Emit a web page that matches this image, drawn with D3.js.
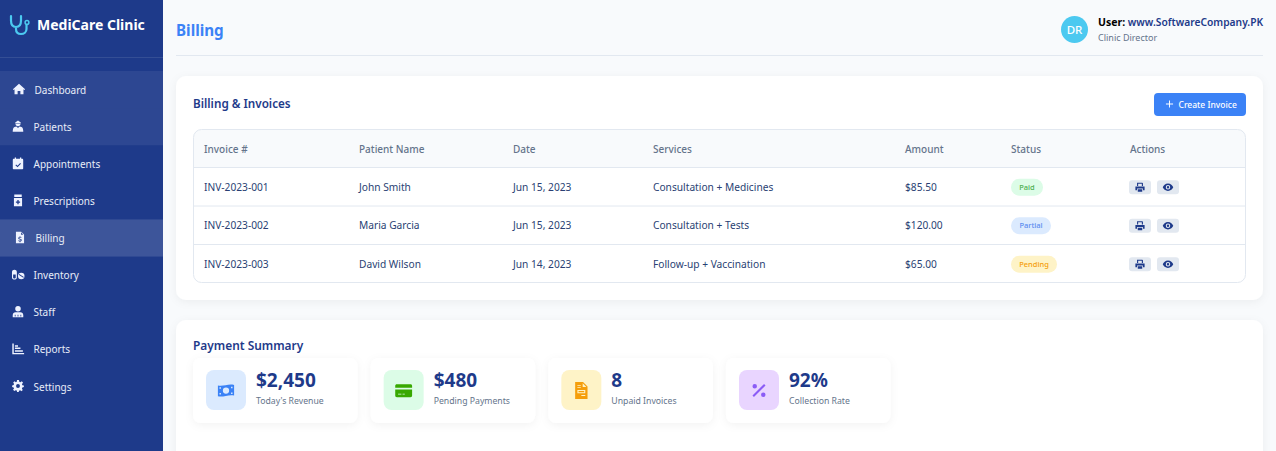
<!DOCTYPE html>
<html>
<head>
<meta charset="utf-8">
<script src="https://cdn.jsdelivr.net/npm/d3@7"></script>
<style>
  html, body { margin: 0; padding: 0; background: #f8fafc; overflow: hidden; }
  svg { display: block; font-family: "Noto Sans", sans-serif; }
</style>
</head>
<body>
<svg id="page" width="1276" height="451"></svg>
<script>
// values
const navLabels = ['Dashboard', 'Patients', 'Appointments', 'Prescriptions', 'Billing', 'Inventory', 'Staff', 'Reports', 'Settings'];
const navIcons = ['home', 'patient', 'calendar', 'bottle', 'file', 'pills', 'staff', 'chart', 'gear'];
const tableHeaders = ['Invoice #', 'Patient Name', 'Date', 'Services', 'Amount', 'Status', 'Actions'];
const invoiceNumbers = ['INV-2023-001', 'INV-2023-002', 'INV-2023-003'];
const patientNames = ['John Smith', 'Maria Garcia', 'David Wilson'];
const invoiceDates = ['Jun 15, 2023', 'Jun 15, 2023', 'Jun 14, 2023'];
const services = ['Consultation + Medicines', 'Consultation + Tests', 'Follow-up + Vaccination'];
const amounts = ['$85.50', '$120.00', '$65.00'];
const statuses = ['Paid', 'Partial', 'Pending'];
const statValues = ['$2,450', '$480', '8', '92%'];
const statLabels = ["Today's Revenue", 'Pending Payments', 'Unpaid Invoices', 'Collection Rate'];
const statIcons = ['money', 'card', 'doc', 'percent'];

const NAVY = '#1e3a8a', BLUE = '#3b82f6', LINE = '#e2e8f0', GREY = '#64748b', CELL = '#2a3f73';

// icon outlines on a 16x16 grid
const icons = {
  home: 'M8 1.5 15.5 8.2 14.6 9.2 13.5 8.3V14.5H9.7V10.4H6.3V14.5H2.5V8.3L1.4 9.2.5 8.2Z',
  patient: 'M4.6 3.4 8 1 11.4 3.4V4.6H4.6ZM5 5.4H11C11 7 9.8 8 8 8S5 7 5 5.4ZM3.8 9 6 8.4 8 10.2 10 8.4 12.3 9C13.8 9.6 14.5 11.2 14.5 15H1.5C1.5 11.2 2.3 9.6 3.8 9Z',
  calendar: 'M4 .8H5.6V2.4H10.4V.8H12V2.4H13C13.9 2.4 14.4 2.9 14.4 3.8V14C14.4 14.9 13.9 15.4 13 15.4H3C2.1 15.4 1.6 14.9 1.6 14V3.8C1.6 2.9 2.1 2.4 3 2.4H4ZM3 6.2V14H13V6.2ZM3 6.2H13V14H3ZM10.7 7.8 11.6 8.7 7.4 12.8 4.8 10.3 5.7 9.4 7.4 11Z',
  bottle: 'M3.4 .8H12.6V3.8H3.4ZM3 5H13V15.2H3ZM7.2 7.6V9.4H5.4V10.8H7.2V12.6H8.8V10.8H10.6V9.4H8.8V7.6Z',
  file: 'M3 .8H9.4L13 4.4V15.2H3ZM9.2 1.6V4.6H12.2ZM7.4 6.4V7.3C6.1 7.5 5.7 8.3 5.7 9 5.7 10.8 8.9 10.5 8.9 11.4 8.9 12 7.3 11.9 6.1 11.4L5.8 12.4C6.3 12.6 6.9 12.8 7.4 12.8V13.7H8.6V12.8C9.8 12.6 10.3 11.9 10.3 11.1 10.3 9.3 7.1 9.6 7.1 8.8 7.1 8.2 8.5 8.3 9.6 8.7L9.9 7.7C9.5 7.5 9 7.4 8.6 7.3V6.4Z',
  pills: 'M.6 5C.6 1 6.6 1 6.6 5V11.5C6.6 15 .6 15 .6 11.5ZM2 8V11.5C2 13.3 5.2 13.3 5.2 11.5V8ZM12 5.6A4 4 0 1 1 12 13.6 4 4 0 1 1 12 5.6ZM9.4 7.2 15.2 11 14.6 11.9 8.8 8.1Z',
  staff: 'M8 1A3.4 3.4 0 1 1 8 7.8 3.4 3.4 0 1 1 8 1ZM5 8.8H11C13 8.8 14.5 10.4 14.5 12.4V14.8H1.5V12.4C1.5 10.4 3 8.8 5 8.8ZM4 11.8V13.8H5V11.8ZM7.5 11.8V13.8H8.5V11.8ZM11 11.8V13.8H12V11.8Z',
  chart: 'M1 1.5H2.8V13H15.5V14.8H1ZM4.2 3.5H8V5.3H4.2ZM4.2 6.5H11V8.3H4.2ZM4.2 9.8H14V11.6H4.2Z',
  gear: 'M6.8 .8H9.2L9.6 2.7 11 3.3 12.7 2.2 14.2 4.1 12.9 5.5 13.3 7 15.2 7.5V9.4L13.3 9.9 12.8 11.3 13.9 13 12.2 14.5 10.7 13.3 9.3 13.8 8.9 15.4H6.9L6.5 13.7 5.1 13.2 3.5 14.3 1.9 12.7 3.1 11.2 2.6 9.8.8 9.3V7.3L2.6 6.9 3.1 5.5 2.1 3.8 3.7 2.3 5.3 3.4 6.5 2.8ZM8 5.6A2.4 2.4 0 1 0 8 10.4 2.4 2.4 0 1 0 8 5.6Z',
  plus: 'M7.2 2H8.8V7.2H14V8.8H8.8V14H7.2V8.8H2V7.2H7.2Z',
  print: 'M3.5 1H11.5L12.5 2V6.2H10.8V2.8H5.2V6.2H3.5ZM1 6.8H15V12.4H12.5V10H3.5V12.4H1ZM4.6 11H11.4V15H4.6Z',
  eye: 'M8 2.4C12 2.4 15 5.6 16 8 15 10.4 12 13.6 8 13.6S1 10.4 0 8C1 5.6 4 2.4 8 2.4ZM8 4.6A3.4 3.4 0 1 0 8 11.4 3.4 3.4 0 1 0 8 4.6ZM8 6.2A1.8 1.8 0 1 1 8 9.8 1.8 1.8 0 1 1 8 6.2Z',
  money: 'M.8 3.5C5 5 10.5 1.5 15.2 3.2V12.5C10.5 11 5 14.5 .8 13ZM8 5.3A2.8 2.8 0 1 0 8 10.9 2.8 2.8 0 1 0 8 5.3ZM2.2 5V6.4H3.5V5.2ZM12.5 4.6V5.9H13.8V4.7ZM2.2 10.2V11.5H3.5V10.2ZM12.5 9.8V11.1H13.8V9.8Z',
  card: 'M2 2.5H14C15 2.5 15.5 3 15.5 4V5.5H.5V4C.5 3 1 2.5 2 2.5ZM.5 7.2H15.5V12.5C15.5 13.4 15 14 14 14H2C1 14 .5 13.4 .5 12.5ZM3 10.8V11.5H6V10.8ZM7 10.8V11.5H9V10.8Z',
  doc: 'M2.5 .5H9.5L13.5 4.5V15.5H2.5ZM9.2 1.5V4.8H12.5ZM4.5 3V3.8H7.5V3ZM4.5 5V5.8H7.5V5ZM4.5 7.5V10.5H11.5V7.5ZM5.5 8.5H10.5V9.5H5.5ZM8 12V12.8H11.5V12Z',
  percent: 'M12.5 2.2 13.8 3.5 3.5 13.8 2.2 12.5ZM4.2 2.3A2 2 0 1 1 4.2 6.3 2 2 0 1 1 4.2 2.3ZM11.8 9.7A2 2 0 1 1 11.8 13.7 2 2 0 1 1 11.8 9.7Z'
};

const svg = d3.select('#page');

function icon(parent, name, cx, cy, size, color) {
  parent.append('path')
    .attr('d', icons[name])
    .attr('fill', color)
    .attr('fill-rule', 'evenodd')
    .attr('transform', `translate(${cx - size / 2},${cy - size / 2}) scale(${size / 16})`);
}

function label(parent, str, x, y, size, color, weight) {
  return parent.append('text')
    .attr('x', x).attr('y', y)
    .attr('dy', '0.35em')
    .attr('font-size', size)
    .attr('font-weight', weight || 400)
    .attr('fill', color)
    .text(str);
}

// shadows
const defs = svg.append('defs');
const shadow = defs.append('filter').attr('id', 'shadow')
  .attr('x', '-5%').attr('y', '-10%').attr('width', '110%').attr('height', '125%');
shadow.append('feDropShadow').attr('dx', 0).attr('dy', 2).attr('stdDeviation', 4)
  .attr('flood-color', '#000').attr('flood-opacity', 0.05);

// sidebar
const side = svg.append('g');
side.append('rect').attr('width', 163).attr('height', 451).attr('fill', NAVY);
side.append('rect').attr('y', 57).attr('width', 163).attr('height', 1).attr('fill', '#fff').attr('opacity', 0.1);

// stethoscope
side.append('path')
  .attr('d', 'M11 16V20.5C11 24.5 13 27 16 27S21 24.5 21 20.5V16M16 27V29C16 32 18 34 21 34S26.5 32 26.5 29V25')
  .attr('fill', 'none').attr('stroke', '#4cc9f0').attr('stroke-width', 2.2).attr('stroke-linecap', 'round');
side.append('circle').attr('cx', 27).attr('cy', 22.5).attr('r', 1.9).attr('fill', 'none').attr('stroke', '#4cc9f0').attr('stroke-width', 1.5);
label(side, 'MediCare Clinic', 37, 25, 14, '#fff', 700);

const navY = d3.scaleBand().domain(navLabels).range([71, 405]);
const navFill = { Dashboard: 0.07, Patients: 0.07, Billing: 0.14 };
const navRow = side.selectAll('g.nav').data(navLabels).join('g').attr('class', 'nav');
navRow.append('rect')
  .attr('x', 0).attr('y', d => navY(d)).attr('width', 163).attr('height', navY.bandwidth())
  .attr('fill', '#fff').attr('fill-opacity', d => navFill[d] || 0);
navRow.each(function (d, i) {
  const row = d3.select(this);
  const cy = navY(d) + navY.bandwidth() / 2;
  const dx = d === 'Dashboard' ? 1 : d === 'Billing' ? 2 : 0;
  icon(row, navIcons[i], 18 + dx, cy - 0.5, 13, '#eef2ff');
  label(row, d, 33.5 + dx, cy + 0.6, 10, '#e8edf8');
});

// header
svg.append('rect').attr('x', 176).attr('y', 55).attr('width', 1087).attr('height', 1).attr('fill', LINE);
label(svg, 'Billing', 176, 31, 15.2, BLUE, 700);
svg.append('circle').attr('cx', 1074.5).attr('cy', 29.5).attr('r', 13.5).attr('fill', '#4cc9f0');
label(svg, 'DR', 1074.5, 30, 11.5, '#fff', 500).attr('text-anchor', 'middle');
const who = label(svg, 'User: ', 1098, 22, 10.5, '#000', 700);
who.append('tspan').attr('fill', NAVY).attr('font-size', 10.25).attr('font-weight', 600).text('www.SoftwareCompany.PK');
label(svg, 'Clinic Director', 1098, 37.5, 9, GREY);

// cards
svg.append('rect').attr('x', 176).attr('y', 76).attr('width', 1087).attr('height', 224).attr('rx', 10)
  .attr('fill', '#fff').attr('filter', 'url(#shadow)');
svg.append('rect').attr('x', 176).attr('y', 320).attr('width', 1087).attr('height', 180).attr('rx', 10)
  .attr('fill', '#fff').attr('filter', 'url(#shadow)');

label(svg, 'Billing & Invoices', 193, 104, 11.7, NAVY, 600);

// create button
svg.append('rect').attr('x', 1154).attr('y', 93).attr('width', 92).attr('height', 23).attr('rx', 4).attr('fill', BLUE);
icon(svg, 'plus', 1169.5, 104, 9.5, '#fff');
label(svg, 'Create Invoice', 1178.5, 105, 8.5, '#fff', 500);

// table
const colX = d3.scaleOrdinal().domain(tableHeaders).range([204, 359, 513, 653, 905, 1011, 1130]);
const rowY = d3.scaleBand().domain(invoiceNumbers).range([167.5, 283]);
const table = svg.append('g');
defs.append('clipPath').attr('id', 'tableClip').append('rect')
  .attr('x', 193.5).attr('y', 129.5).attr('width', 1052).attr('height', 153).attr('rx', 8);
table.append('rect').attr('x', 193.5).attr('y', 129.5).attr('width', 1052).attr('height', 38)
  .attr('fill', '#f8fafc').attr('clip-path', 'url(#tableClip)');
table.append('rect').attr('x', 193.5).attr('y', 129.5).attr('width', 1052).attr('height', 153).attr('rx', 8)
  .attr('fill', 'none').attr('stroke', LINE);
table.selectAll('line.rule').data(invoiceNumbers).join('line')
  .attr('class', 'rule')
  .attr('x1', 194).attr('x2', 1245)
  .attr('y1', d => rowY(d)).attr('y2', d => rowY(d))
  .attr('stroke', LINE);
table.selectAll('text.head').data(tableHeaders).join('text')
  .attr('class', 'head')
  .attr('x', d => colX(d)).attr('y', 149).attr('dy', '0.35em')
  .attr('font-size', 10).attr('font-weight', 500).attr('fill', GREY)
  .text(d => d);

const statusStyle = {
  Paid: { bg: '#dcfce7', fg: '#4caf50', w: 32 },
  Partial: { bg: '#dbeafe', fg: '#5b8def', w: 40 },
  Pending: { bg: '#fef3c7', fg: '#f59e0b', w: 46 }
};

invoiceNumbers.forEach((inv, i) => {
  const cy = rowY(inv) + rowY.bandwidth() / 2 + 0.5;
  const cells = [inv, patientNames[i], invoiceDates[i], services[i], amounts[i]];
  cells.forEach((c, j) => label(table, c, colX(tableHeaders[j]), cy, 10.2, CELL));

  const st = statusStyle[statuses[i]];
  table.append('rect').attr('x', 1011).attr('y', cy - 8.5).attr('width', st.w).attr('height', 17)
    .attr('rx', 8.5).attr('fill', st.bg);
  label(table, statuses[i], 1011 + st.w / 2, cy, 7.5, st.fg, 500).attr('text-anchor', 'middle');

  [['print', 1129], ['eye', 1157]].forEach(([name, x]) => {
    table.append('rect').attr('x', x).attr('y', cy - 7).attr('width', 22).attr('height', 14)
      .attr('rx', 3).attr('fill', LINE);
    icon(table, name, x + 11, cy, 10.5, NAVY);
  });
});

// payment summary
label(svg, 'Payment Summary', 193, 346, 11.9, NAVY, 600);
const statX = d3.scaleBand().domain(statLabels).range([193, 890.5]).paddingInner(0.0741);
const statStyle = [
  { bg: '#dbeafe', fg: BLUE },
  { bg: '#dcfce7', fg: '#38a800' },
  { bg: '#fef3c7', fg: '#f59e0b' },
  { bg: '#e9d5ff', fg: '#8b5cf6' }
];
const statCard = svg.selectAll('g.stat').data(statLabels).join('g').attr('class', 'stat')
  .attr('transform', d => `translate(${statX(d)},358)`);
statCard.append('rect').attr('width', statX.bandwidth()).attr('height', 65).attr('rx', 8)
  .attr('fill', '#fff').attr('filter', 'url(#shadow)');
statCard.append('rect').attr('x', 13).attr('y', 12).attr('width', 40).attr('height', 40).attr('rx', 8)
  .attr('fill', (d, i) => statStyle[i].bg);
statCard.each(function (d, i) {
  const card = d3.select(this);
  icon(card, statIcons[i], 33, 32.5, 18, statStyle[i].fg);
  label(card, statValues[i], 63, 22, 19, NAVY, 700);
  label(card, d, 63, 43, 8.7, GREY);
});
</script>
</body>
</html>
